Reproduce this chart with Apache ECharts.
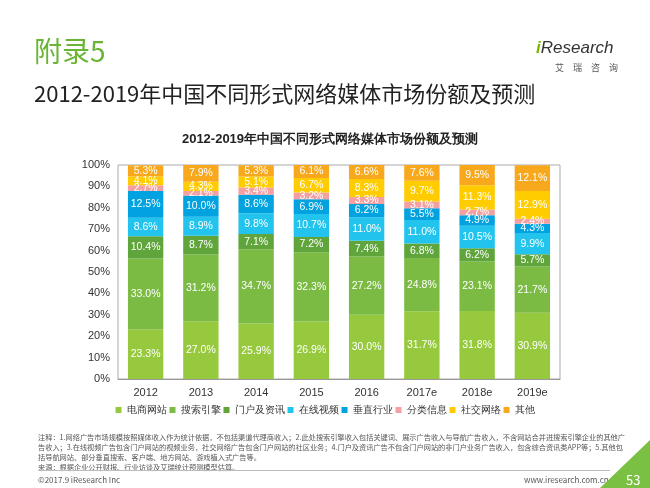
<!DOCTYPE html>
<html><head><meta charset="utf-8">
<script src="https://cdn.jsdelivr.net/npm/echarts@6/dist/echarts.min.js"></script>
<style>
body{margin:0;width:650px;height:488px;overflow:hidden;background:#fff;font-family:"Noto Sans CJK SC","Noto Sans",sans-serif;position:relative}
#c{position:absolute;left:0;top:0;width:650px;height:488px}
.t1{position:absolute;left:34px;top:30px;font-size:28px;color:#6BB536}
.t2{position:absolute;left:34px;top:76px;font-size:22px;color:#222}
.logo{position:absolute;left:536px;top:38px;font-size:17px;color:#333;font-family:Arial,sans-serif;font-style:italic}
.logo b{color:#7AB800}
.sub{position:absolute;left:555px;top:61px;font-size:9px;color:#555;letter-spacing:9px}
.note{position:absolute;left:38px;top:432px;width:590px;font-size:7.2px;line-height:10px;color:#555}
.line{position:absolute;left:38px;top:470px;width:572px;border-top:1px solid #bbb}
.f1{position:absolute;left:38px;top:474px;font-size:8px;color:#555}
.f2{position:absolute;left:524px;top:474px;font-size:8px;color:#555}
.tri{position:absolute;left:600px;top:440px;width:0;height:0;border-left:50px solid transparent;border-bottom:48px solid #7AC143}
.num{position:absolute;left:626px;top:470px;font-size:13px;color:#fff}
</style></head><body>
<div id="c"></div>
<div class="t1">附录5</div>
<div class="t2">2012-2019年中国不同形式网络媒体市场份额及预测</div>
<div class="logo"><b>i</b>Research</div>
<div class="sub">艾瑞咨询</div>
<div class="note">注释：1.网络广告市场规模按照媒体收入作为统计依据，不包括渠道代理商收入；2.此处搜索引擎收入包括关键词、展示广告收入与导航广告收入，不含网站合并进搜索引擎企业的其他广告收入；3.在线视频广告包含门户网站的视频业务，社交网络广告包含门户网站的社区业务；4.门户及资讯广告不包含门户网站的非门户业务广告收入，包含综合资讯类APP等；5.其他包括导航网站、部分垂直搜索、客户端、地方网站、游戏植入式广告等。<br>来源：根据企业公开财报、行业访谈及艾瑞统计预测模型估算。</div>
<div class="line"></div>
<div class="f1">©2017.9 iResearch Inc</div>
<div class="f2">www.iresearch.com.cn</div>
<div class="tri"></div>
<div class="num">53</div>
<script>
var years=['2012','2013','2014','2015','2016','2017e','2018e','2019e'];
var names=['电商网站','搜索引擎','门户及资讯','在线视频','垂直行业','分类信息','社交网络','其他'];
var ecommerce=[23.3,27.0,25.9,26.9,30.0,31.7,31.8,30.9];
var search=[33.0,31.2,34.7,32.3,27.2,24.8,23.1,21.7];
var portal=[10.4,8.7,7.1,7.2,7.4,6.8,6.2,5.7];
var video=[8.6,8.9,9.8,10.7,11.0,11.0,10.5,9.9];
var vertical=[12.5,10.0,8.6,6.9,6.2,5.5,4.9,4.3];
var classified=[2.7,2.1,3.4,3.2,3.3,3.1,2.7,2.4];
var social=[4.1,4.3,5.1,6.7,8.3,9.7,11.3,12.9];
var other=[5.3,7.9,5.3,6.1,6.6,7.6,9.5,12.1];
var all=[ecommerce,search,portal,video,vertical,classified,social,other];
var colors=['#96C93D','#7BBB43','#5FA53B','#22C4EE','#00A2DF','#F4A0A2','#FFCC00','#F8A81C'];
var chart=echarts.init(document.getElementById('c'));
chart.setOption({
 title:{text:'2012-2019年中国不同形式网络媒体市场份额及预测',left:325,top:128,textAlign:'center',textStyle:{fontSize:13,fontWeight:'bold',color:'#222'}},
 legend:{bottom:68,left:'center',itemWidth:6,itemHeight:6,itemGap:3,icon:'rect',textStyle:{fontSize:10,color:'#333'},data:names},
 grid:{left:118,right:90,top:165,bottom:109,show:true,borderColor:'#aaa'},
 xAxis:{type:'category',data:years,axisTick:{show:false},axisLine:{lineStyle:{color:'#999'}},axisLabel:{fontSize:11,color:'#333'}},
 yAxis:{type:'value',min:0,max:100,interval:10,splitLine:{show:false},axisLine:{show:false},axisLabel:{formatter:'{value}%',fontSize:11,color:'#333'}},
 series:all.map(function(d,i){return {name:names[i],type:'bar',stack:'a',barWidth:'64%',data:d,itemStyle:{color:colors[i]},
  label:{show:true,position:'inside',formatter:function(p){return p.value.toFixed(1)+'%';},color:'#fff',fontSize:10.5}};})
});
</script></body></html>
